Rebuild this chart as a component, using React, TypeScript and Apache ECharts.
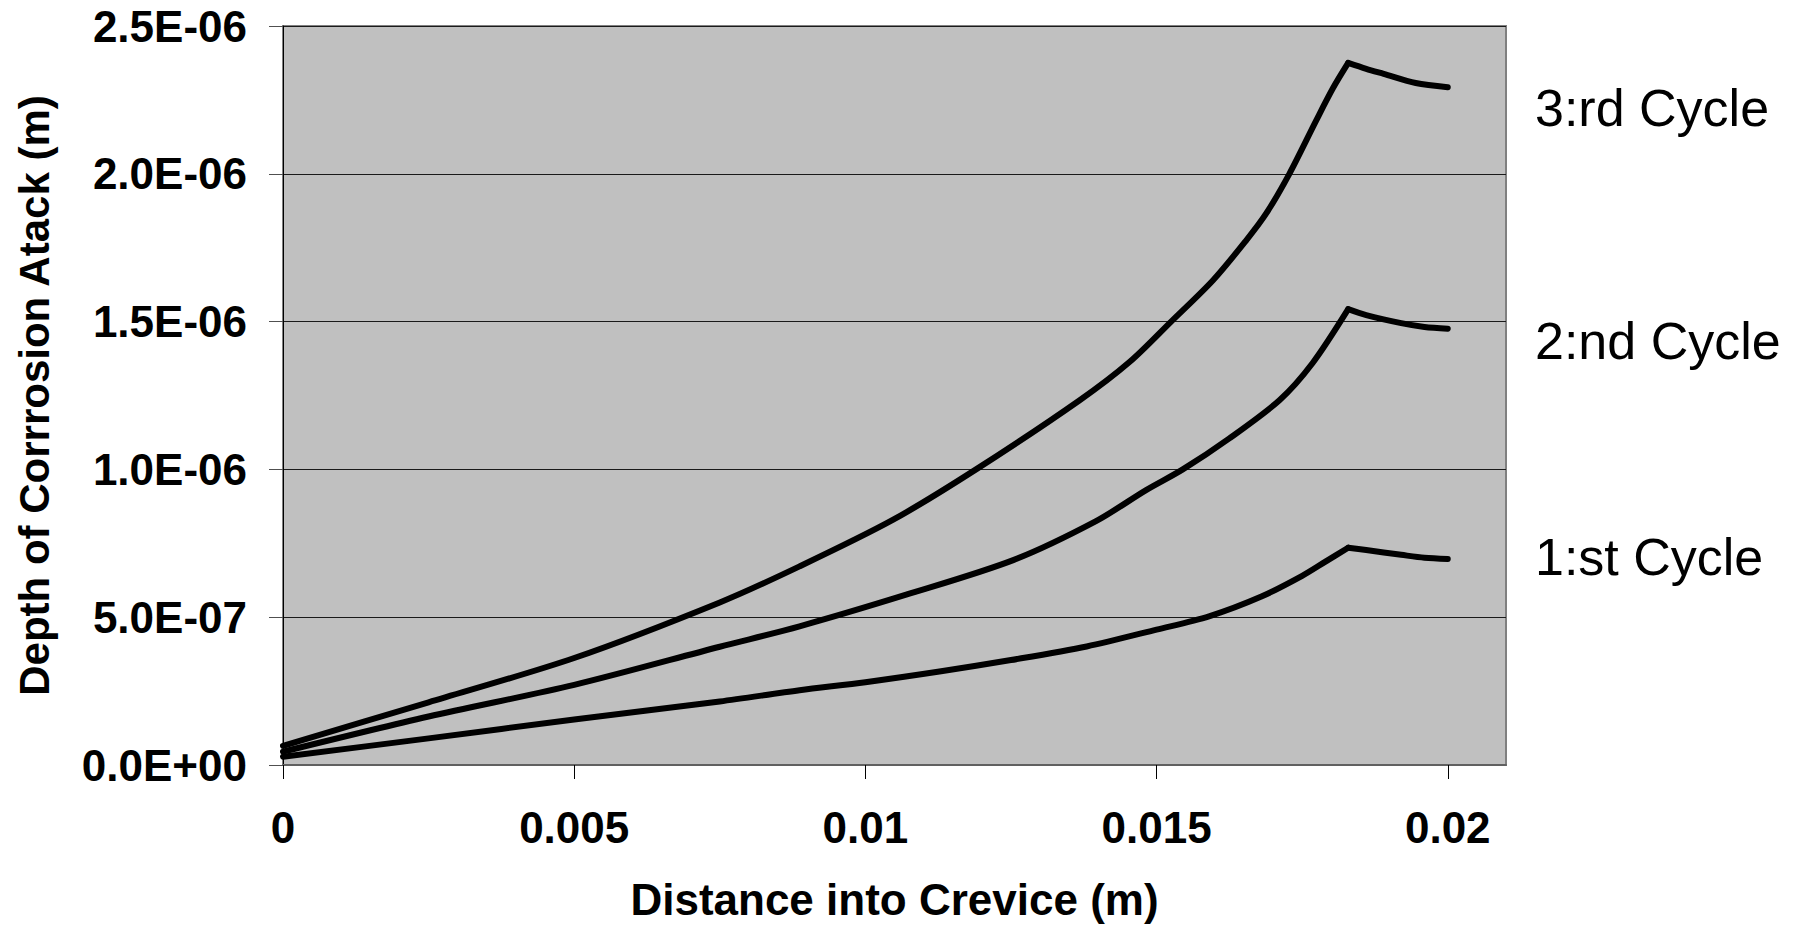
import React, { useEffect, useRef } from 'react';
import * as echarts from 'echarts';

// Distance into crevice (m) and depth of corrosion attack (m)
const X_CYCLE1 = [0, 0.0025, 0.005, 0.0075, 0.00887, 0.01, 0.0113, 0.0125, 0.0138, 0.015, 0.0159, 0.0168, 0.0175, 0.0179, 0.01829, 0.0186, 0.0192, 0.0196, 0.02];
const Y_CYCLE1 = [2.8e-8, 9.0e-8, 1.54e-7, 2.15e-7, 2.53e-7, 2.8e-7, 3.17e-7, 3.55e-7, 4.01e-7, 4.58e-7, 5.03e-7, 5.7e-7, 6.4e-7, 6.88e-7, 7.35e-7, 7.27e-7, 7.11e-7, 7.01e-7, 6.97e-7];

const X_CYCLE2 = [0, 0.0025, 0.005, 0.0075, 0.00887, 0.0107, 0.01255, 0.01396, 0.01482, 0.01545, 0.01625, 0.01711, 0.01768, 0.01829, 0.0186, 0.0192, 0.0196, 0.02];
const Y_CYCLE2 = [4.5e-8, 1.64e-7, 2.71e-7, 4.0e-7, 4.69e-7, 5.76e-7, 6.94e-7, 8.25e-7, 9.3e-7, 1.0e-6, 1.105e-6, 1.234e-6, 1.36e-6, 1.542e-6, 1.522e-6, 1.495e-6, 1.482e-6, 1.476e-6];

const X_CYCLE3 = [0, 0.0025, 0.005, 0.0075, 0.00887, 0.01047, 0.0119, 0.01368, 0.01454, 0.01525, 0.01597, 0.01654, 0.01688, 0.01728, 0.01774, 0.01803, 0.01829, 0.0186, 0.0189, 0.01945, 0.02];
const Y_CYCLE3 = [6.5e-8, 2.12e-7, 3.62e-7, 5.5e-7, 6.72e-7, 8.29e-7, 1.0e-6, 1.234e-6, 1.364e-6, 1.5e-6, 1.64e-6, 1.775e-6, 1.865e-6, 2.0e-6, 2.18e-6, 2.29e-6, 2.375e-6, 2.355e-6, 2.338e-6, 2.307e-6, 2.293e-6];

const CYCLE_NAMES = ['1:st Cycle', '2:nd Cycle', '3:rd Cycle'];
const X_TICKS = [0, 0.005, 0.01, 0.015, 0.02];
const X_TITLE = 'Distance into Crevice (m)';
const Y_TITLE = 'Depth of Corrrosion Atack (m)';

const FONT = '"Liberation Sans", Arial, Helvetica, sans-serif';

function sci(v: number): string {
  if (Math.abs(v) < 1e-15) return '0.0E+00';
  const [m, e] = v.toExponential(1).split('e');
  const n = parseInt(e, 10);
  return m + 'E' + (n < 0 ? '-' : '+') + String(Math.abs(n)).padStart(2, '0');
}

const pairs = (xs: number[], ys: number[]) => xs.map((x, i) => [x, ys[i]]);

// split a cycle at its peak so each branch is smoothed but the peak stays sharp
function branches(xs: number[], ys: number[]) {
  const d = pairs(xs, ys);
  let k = 0;
  ys.forEach((y, i) => {
    if (y > ys[k]) k = i;
  });
  return [d.slice(0, k + 1), d.slice(k)];
}

export default function App() {
  const ref = useRef<HTMLDivElement>(null);
  useEffect(() => {
    if (!ref.current) return;
    const chart = echarts.init(ref.current, undefined, { renderer: 'svg' });
    const cycles = [
      [X_CYCLE1, Y_CYCLE1],
      [X_CYCLE2, Y_CYCLE2],
      [X_CYCLE3, Y_CYCLE3],
    ];
    const series: any[] = [];
    cycles.forEach(([xs, ys], i) => {
      branches(xs, ys).forEach((d) => {
        series.push({
          name: CYCLE_NAMES[i],
          type: 'line',
          data: d,
          showSymbol: false,
          symbol: 'none',
          smooth: 0.3,
          lineStyle: { color: '#000', width: 6, cap: 'round', join: 'round' },
          z: 3,
        });
      });
    });
    const labelY = [557, 341, 107.5];
    chart.setOption({
      animation: false,
      backgroundColor: '#ffffff',
      grid: {
        left: 283,
        top: 26,
        right: 296,
        bottom: 163,
        show: true,
        backgroundColor: '#C0C0C0',
        borderColor: '#808080',
        borderWidth: 2,
      },
      xAxis: {
        type: 'value',
        min: 0,
        max: 0.021,
        interval: 0.005,
        name: X_TITLE,
        nameLocation: 'middle',
        nameGap: 112,
        nameTextStyle: { fontFamily: FONT, fontSize: 44, fontWeight: 'bold', color: '#000' },
        axisLine: { show: true, onZero: false, lineStyle: { color: '#606060', width: 2 } },
        axisTick: { show: true, inside: false, length: 14, lineStyle: { color: '#000', width: 1 }, customValues: X_TICKS },
        axisLabel: {
          fontFamily: FONT,
          fontSize: 44,
          fontWeight: 'bold',
          color: '#000',
          margin: 40,
          customValues: X_TICKS,
          formatter: (v: number) => String(v),
        },
        splitLine: { show: false },
      },
      yAxis: {
        type: 'value',
        min: 0,
        max: 2.5e-6,
        interval: 5e-7,
        name: Y_TITLE,
        nameLocation: 'middle',
        nameGap: 228,
        nameRotate: 90,
        nameTextStyle: { fontFamily: FONT, fontSize: 42, fontWeight: 'bold', color: '#000' },
        axisLine: { show: true, lineStyle: { color: '#000', width: 1 } },
        axisTick: { show: true, inside: false, length: 14, lineStyle: { color: '#505050', width: 1 } },
        axisLabel: {
          fontFamily: FONT,
          fontSize: 44,
          fontWeight: 'bold',
          color: '#000',
          margin: 36,
          formatter: (v: number) => sci(v),
        },
        splitLine: { show: true, lineStyle: { color: '#1a1a1a', width: 1 } },
      },
      series,
      graphic: CYCLE_NAMES.map((t, i) => ({
        type: 'text',
        x: 1535,
        y: labelY[i],
        style: {
          text: t,
          fill: '#000',
          fontFamily: FONT,
          fontSize: 52,
          fontWeight: 'normal',
          verticalAlign: 'middle',
          align: 'left',
        },
      })),
    });
    return () => chart.dispose();
  }, []);
  return <div ref={ref} style={{ position: 'absolute', left: 0, top: 0, width: 1802, height: 928 }} />;
}
